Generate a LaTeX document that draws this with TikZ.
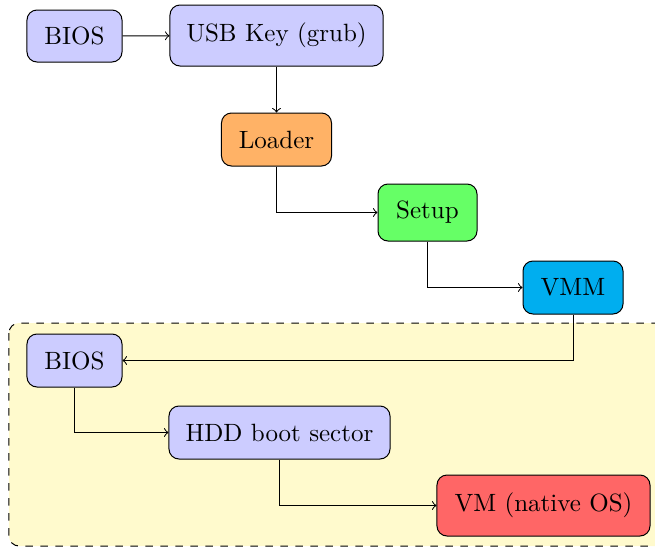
\documentclass[tikz,border=0pt]{standalone}
\usetikzlibrary{arrows}
\definecolor{biosblue}{RGB}{204,204,255}
\definecolor{loaderorange}{RGB}{255,178,102}
\definecolor{setupgreen}{RGB}{102,255,102}
\definecolor{vmmcyan}{RGB}{0,174,239}
\definecolor{vmred}{RGB}{255,102,102}
\definecolor{guestyellow}{RGB}{255,250,205}
\tikzset{
  stage/.style={draw, rounded corners=4pt, inner sep=0pt, align=center},
  flow/.style={->, >=to}
}
\begin{document}
\begin{tikzpicture}[x=0.4pt, y=-0.4pt]
  \useasboundingbox (0,0) rectangle (655,548);

  % guest machine area
  \draw[dashed, rounded corners=4pt, fill=guestyellow] (9,323) rectangle (670,546);

  % host boot chain
  \node[stage, fill=biosblue, minimum width=38pt, minimum height=20.8pt] (bios1) at (74.5,36) {BIOS};
  \node[stage, fill=biosblue, minimum width=85.2pt, minimum height=24.4pt] (usb) at (276.5,35.5) {USB Key (grub)};
  \node[stage, fill=loaderorange, minimum width=44pt, minimum height=21.2pt] (loader) at (276.5,139.5) {Loader};
  \node[stage, fill=setupgreen, minimum width=39.6pt, minimum height=22.8pt] (setup) at (427.5,212.5) {Setup};
  \node[stage, fill=vmmcyan, minimum width=40pt, minimum height=21.2pt] (vmm) at (573,287.5) {VMM};

  % guest boot chain
  \node[stage, fill=biosblue, minimum width=38pt, minimum height=21.2pt] (bios2) at (74.5,360.5) {BIOS};
  \node[stage, fill=biosblue, minimum width=88.4pt, minimum height=21.2pt] (hdd) at (279.5,432.5) {HDD boot sector};
  \node[stage, fill=vmred, minimum width=85.2pt, minimum height=24.4pt] (vm) at (543.5,505.5) {VM (native OS)};

  % connectors
  \draw[flow] (bios1) -- (usb);
  \draw[flow] (usb) -- (loader);
  \draw[flow] (loader.south) |- (setup.west);
  \draw[flow] (setup.south) |- (vmm.west);
  \draw[flow] (vmm.south) |- (bios2.east);
  \draw[flow] (bios2.south) |- (hdd.west);
  \draw[flow] (hdd.south) |- (vm.west);
\end{tikzpicture}
\end{document}
